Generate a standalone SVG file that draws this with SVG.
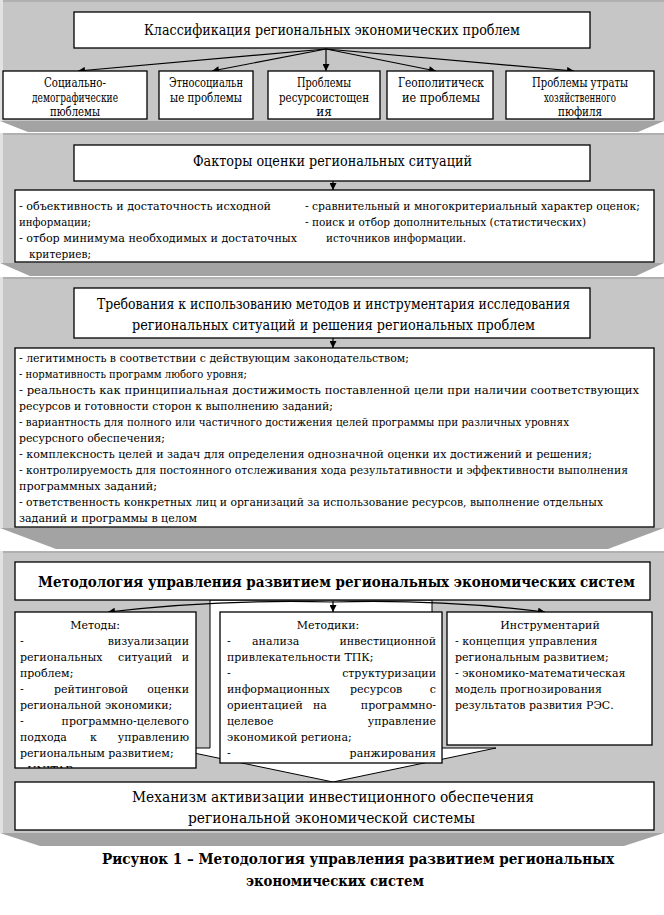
<svg xmlns="http://www.w3.org/2000/svg" width="664" height="915" viewBox="0 0 664 915" font-family="'DejaVu Serif',serif">
<defs>
<marker id="ah" viewBox="0 0 10 10" refX="10" refY="5" markerWidth="8" markerHeight="7" markerUnits="userSpaceOnUse" orient="auto"><path d="M0,0 L10,5 L0,10 Z" fill="#000"/></marker>
<clipPath id="c1"><rect x="15" y="612" width="181" height="156"/></clipPath>
<clipPath id="c2"><rect x="220" y="612" width="222" height="151"/></clipPath>
</defs>
<style>
.panel{fill:#c6c6c6}
.bev{fill:#a3a3a3}
.hl{fill:#e2e2e2}
.top{fill:#b0b0b0}
.box{fill:#fff;stroke:#000;stroke-width:1.3}
text{font-family:"DejaVu Serif","Liberation Serif",serif;fill:#000}
.s11{font-size:12px}
.s12{font-size:11px}
.s13{font-size:11.5px}
.s16{font-size:14px}
.c{text-anchor:middle}
.e{text-anchor:end}
.b{font-weight:bold}
.con{fill:none;stroke:#000;stroke-width:1.2}
</style>
<rect x="0" y="0" width="664" height="915" fill="#fff"/>

<g id="panels">
<rect class="panel" x="0" y="0" width="664" height="121"/>
<rect class="top" x="0" y="0" width="664" height="2"/>
<rect class="hl" x="0" y="0" width="3" height="121"/>
<polygon class="bev" points="0,121 664,121 638,132 28,132"/>

<rect class="panel" x="0" y="133" width="664" height="130"/>
<rect class="top" x="0" y="133" width="664" height="2"/>
<rect class="hl" x="0" y="133" width="3" height="130"/>
<polygon class="bev" points="0,263 664,263 636,276 30,276"/>

<rect class="panel" x="0" y="277" width="664" height="251"/>
<rect class="top" x="0" y="277" width="664" height="2"/>
<rect class="hl" x="0" y="277" width="3" height="251"/>
<polygon class="bev" points="0,528 664,528 608,549 56,549"/>

<rect class="panel" x="0" y="551" width="664" height="282"/>
<rect class="top" x="0" y="551" width="664" height="2"/>
<rect class="hl" x="0" y="551" width="3" height="282"/>
<polygon class="bev" points="0,833 664,833 624,846 40,846"/>
</g>

<g id="arrow-shape">
<polygon points="210,600 432,600 432,748 496,748 333,782 170,748 210,748" fill="#fff" stroke="#000" stroke-width="1"/>
</g>

<g id="connectors">
<line class="con" x1="326" y1="49" x2="78" y2="71" marker-end="url(#ah)"/>
<line class="con" x1="326" y1="49" x2="212" y2="71" marker-end="url(#ah)"/>
<line class="con" x1="326" y1="49" x2="326" y2="71" marker-end="url(#ah)"/>
<line class="con" x1="326" y1="49" x2="436" y2="71" marker-end="url(#ah)"/>
<line class="con" x1="326" y1="49" x2="574" y2="71" marker-end="url(#ah)"/>
<line class="con" x1="333" y1="181" x2="333" y2="190" marker-end="url(#ah)"/>
<line class="con" x1="333" y1="338" x2="333" y2="348" marker-end="url(#ah)"/>
<path class="con" d="M333,602 Q220,599 108,612" marker-end="url(#ah)"/>
<line class="con" x1="333" y1="601" x2="333" y2="612" marker-end="url(#ah)"/>
<path class="con" d="M333,602 Q440,599 545,612" marker-end="url(#ah)"/>
</g>

<g id="n-classification">
<rect class="box" x="74" y="12" width="516" height="36"/>
<text class="s16" x="144" y="35" textLength="376" lengthAdjust="spacingAndGlyphs">Классификация региональных экономических проблем</text>
</g>

<g id="n-socdem">
<rect class="box" x="3" y="71" width="144" height="48"/>
<text class="s11 c" x="75" y="87" textLength="62" lengthAdjust="spacingAndGlyphs">Социально-</text>
<text class="s11 c" x="75" y="102" textLength="86" lengthAdjust="spacingAndGlyphs">демографические</text>
<text class="s11 c" x="75" y="116" textLength="50" lengthAdjust="spacingAndGlyphs">пюблемы</text>
</g>
<g id="n-ethno">
<rect class="box" x="159" y="71" width="94" height="48"/>
<text class="s11 c" x="206" y="87" textLength="74" lengthAdjust="spacingAndGlyphs">Этносоциальн</text>
<text class="s11 c" x="206" y="102" textLength="72" lengthAdjust="spacingAndGlyphs">ые проблемы</text>
</g>
<g id="n-resource">
<rect class="box" x="268" y="71" width="112" height="48"/>
<text class="s11 c" x="324" y="87" textLength="54" lengthAdjust="spacingAndGlyphs">Проблемы</text>
<text class="s11 c" x="324" y="102" textLength="90" lengthAdjust="spacingAndGlyphs">ресурсоистощен</text>
<text class="s11 c" x="324" y="116">ия</text>
</g>
<g id="n-geo">
<rect class="box" x="387" y="71" width="106" height="48"/>
<text class="s11 c" x="441" y="87" textLength="86" lengthAdjust="spacingAndGlyphs">Геополитическ</text>
<text class="s11 c" x="441" y="102" textLength="78" lengthAdjust="spacingAndGlyphs">ие проблемы</text>
</g>
<g id="n-loss">
<rect class="box" x="506" y="71" width="148" height="48"/>
<text class="s11 c" x="580" y="87" textLength="96" lengthAdjust="spacingAndGlyphs">Проблемы утраты</text>
<text class="s11 c" x="580" y="102" textLength="72" lengthAdjust="spacingAndGlyphs">хозяйственного</text>
<text class="s11 c" x="580" y="116" textLength="44" lengthAdjust="spacingAndGlyphs">пюфиля</text>
</g>

<g id="n-factors">
<rect class="box" x="74" y="145" width="516" height="36"/>
<text class="s16" x="193" y="166" textLength="279" lengthAdjust="spacingAndGlyphs">Факторы оценки региональных ситуаций</text>
</g>
<g id="n-factors-list">
<rect class="box" x="15" y="190" width="639" height="72"/>
<text class="s13" x="19" y="210" textLength="252" lengthAdjust="spacingAndGlyphs">- объективность и достаточность исходной</text>
<text class="s13" x="305" y="210" textLength="335" lengthAdjust="spacingAndGlyphs">- сравнительный и многокритериальный характер оценок;</text>
<text class="s13" x="19" y="226" textLength="72" lengthAdjust="spacingAndGlyphs">информации;</text>
<text class="s13" x="305" y="226" textLength="281" lengthAdjust="spacingAndGlyphs">-   поиск и отбор дополнительных (статистических)</text>
<text class="s13" x="19" y="242" textLength="278" lengthAdjust="spacingAndGlyphs">- отбор минимума необходимых и достаточных</text>
<text class="s13" x="326" y="242" textLength="140" lengthAdjust="spacingAndGlyphs">источников информации.</text>
<text class="s13" x="29" y="258" textLength="62" lengthAdjust="spacingAndGlyphs">критериев;</text>
</g>

<g id="n-requirements">
<rect class="box" x="74" y="288" width="516" height="50"/>
<text class="s16" x="97" y="309" textLength="473" lengthAdjust="spacingAndGlyphs">Требования к использованию методов и инструментария исследования</text>
<text class="s16" x="132" y="330" textLength="403" lengthAdjust="spacingAndGlyphs">региональных ситуаций и решения региональных проблем</text>
</g>
<g id="n-requirements-list">
<rect class="box" x="15" y="348" width="639" height="179"/>
<text class="s13" x="19" y="362" textLength="390" lengthAdjust="spacingAndGlyphs">- легитимность в соответствии с действующим законодательством;</text>
<text class="s13" x="19" y="378" textLength="228" lengthAdjust="spacingAndGlyphs">- нормативность программ любого уровня;</text>
<text class="s13" x="19" y="394" textLength="620" lengthAdjust="spacingAndGlyphs">- реальность как принципиальная достижимость поставленной цели при наличии соответствующих</text>
<text class="s13" x="19" y="410" textLength="314" lengthAdjust="spacingAndGlyphs">ресурсов и готовности сторон к выполнению заданий;</text>
<text class="s13" x="19" y="426" textLength="550" lengthAdjust="spacingAndGlyphs">- вариантность для полного или частичного достижения целей программы при различных уровнях</text>
<text class="s13" x="19" y="442" textLength="146" lengthAdjust="spacingAndGlyphs">ресурсного обеспечения;</text>
<text class="s13" x="19" y="458" textLength="573" lengthAdjust="spacingAndGlyphs">- комплексность целей и задач для определения однозначной оценки их достижений и решения;</text>
<text class="s13" x="19" y="474" textLength="609" lengthAdjust="spacingAndGlyphs" style="font-size:11px">- контролируемость для постоянного отслеживания хода результативности и эффективности выполнения</text>
<text class="s13" x="19" y="490" textLength="138" lengthAdjust="spacingAndGlyphs">программных заданий;</text>
<text class="s13" x="19" y="506" textLength="584" lengthAdjust="spacingAndGlyphs">- ответственность конкретных лиц и организаций за использование ресурсов, выполнение отдельных</text>
<text class="s13" x="19" y="522" textLength="178" lengthAdjust="spacingAndGlyphs">заданий и программы в целом</text>
</g>

<g id="n-methodology">
<rect class="box" x="15" y="562" width="635" height="38"/>
<text class="b" style="font-size:14px" x="38" y="587" textLength="597" lengthAdjust="spacingAndGlyphs">Методология управления развитием региональных экономических систем</text>
</g>

<g id="n-methods">
<rect class="box" x="15" y="612" width="181" height="156"/>
<g clip-path="url(#c1)">
<text class="s12 c" x="95" y="629">Методы:</text>
<text class="s12" x="20" y="645">-</text><text class="s12 e" x="189" y="645">визуализации</text>
<text class="s12" x="20" y="661">региональных</text><text class="s12" x="118" y="661">ситуаций</text><text class="s12 e" x="189" y="661">и</text>
<text class="s12" x="20" y="677">проблем;</text>
<text class="s12" x="20" y="693">-</text><text class="s12" x="54" y="693">рейтинговой</text><text class="s12 e" x="189" y="693">оценки</text>
<text class="s12" x="20" y="709">региональной экономики;</text>
<text class="s12" x="20" y="725">-</text><text class="s12 e" x="189" y="725">программно-целевого</text>
<text class="s12" x="20" y="741">подхода</text><text class="s12" x="90" y="741">к</text><text class="s12 e" x="189" y="741">управлению</text>
<text class="s12" x="20" y="757">региональным развитием;</text>
<text class="s12" x="20" y="774">- UNITAR</text>
</g>
</g>

<g id="n-methodics">
<rect class="box" x="220" y="612" width="222" height="151"/>
<g clip-path="url(#c2)">
<text class="s12 c" x="328" y="629">Методики:</text>
<text class="s12" x="227" y="645">-</text><text class="s12" x="252" y="645">анализа</text><text class="s12 e" x="436" y="645">инвестиционной</text>
<text class="s12" x="227" y="661">привлекательности ТПК;</text>
<text class="s12" x="227" y="677">-</text><text class="s12 e" x="436" y="677">структуризации</text>
<text class="s12" x="227" y="693">информационных</text><text class="s12" x="350" y="693">ресурсов</text><text class="s12 e" x="436" y="693">с</text>
<text class="s12" x="227" y="709">ориентацией</text><text class="s12" x="313" y="709">на</text><text class="s12 e" x="436" y="709">программно-</text>
<text class="s12" x="227" y="725">целевое</text><text class="s12 e" x="436" y="725">управление</text>
<text class="s12" x="227" y="741">экономикой региона;</text>
<text class="s12" x="227" y="757">-</text><text class="s12 e" x="436" y="757">ранжирования</text>
<text class="s12" x="227" y="771">инвестиционных проектов</text>
</g>
</g>

<g id="n-tools">
<rect class="box" x="447" y="612" width="205" height="133"/>
<text class="s12 c" x="550" y="629">Инструментарий</text>
<text class="s12" x="455" y="645">- концепция управления</text>
<text class="s12" x="455" y="661">региональным развитием;</text>
<text class="s12" x="455" y="677">- экономико-математическая</text>
<text class="s12" x="455" y="693">модель прогнозирования</text>
<text class="s12" x="455" y="709">результатов развития РЭС.</text>
</g>

<g id="n-mechanism">
<rect class="box" x="15" y="782" width="639" height="48"/>
<text class="s16" x="132" y="802" textLength="402" lengthAdjust="spacingAndGlyphs">Механизм активизации инвестиционного обеспечения</text>
<text class="s16" x="188" y="823" textLength="287" lengthAdjust="spacingAndGlyphs">региональной экономической системы</text>
</g>

<g id="caption">
<text class="b" style="font-size:14.5px" x="102" y="864" textLength="512" lengthAdjust="spacingAndGlyphs">Рисунок 1 –  Методология управления развитием региональных</text>
<text class="b" style="font-size:14.5px" x="246" y="886" textLength="178" lengthAdjust="spacingAndGlyphs">экономических систем</text>
</g>
</svg>
